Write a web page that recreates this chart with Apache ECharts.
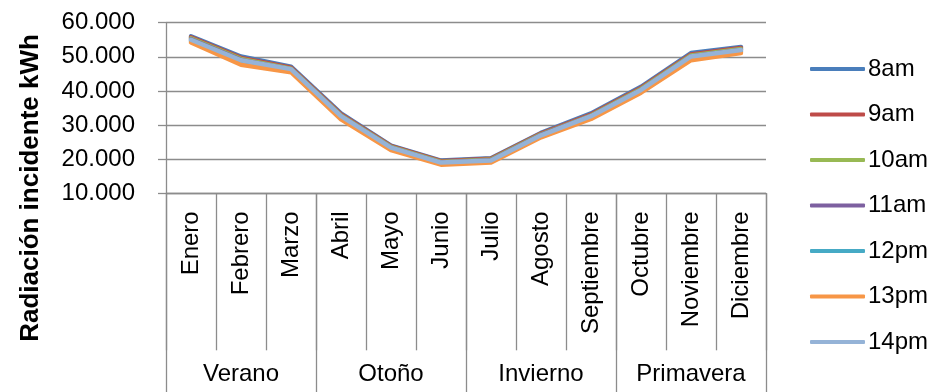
<!DOCTYPE html>
<html>
<head>
<meta charset="utf-8">
<script src="https://cdn.jsdelivr.net/npm/echarts@6/dist/echarts.min.js"></script>
<style>
  html, body { margin: 0; padding: 0; background: #fff; }
  #myChart { width: 933px; height: 392px; }
</style>
</head>
<body>
<div id="myChart"></div>
<script>
// meses y estaciones del eje x
const months = ['Enero', 'Febrero', 'Marzo', 'Abril', 'Mayo', 'Junio', 'Julio', 'Agosto', 'Septiembre', 'Octubre', 'Noviembre', 'Diciembre'];
const seasons = ['Verano', 'Otoño', 'Invierno', 'Primavera'];
const hours = ['8am', '9am', '10am', '11am', '12pm', '13pm', '14pm'];

// radiación incidente kWh por hora
const h8 = [56.0, 50.1, 47.1, 33.4, 24.0, 19.6, 20.3, 27.7, 33.4, 41.2, 51.1, 52.9];
const h9 = [55.7, 49.7, 46.8, 33.1, 23.8, 19.4, 20.1, 27.5, 33.1, 40.9, 50.7, 52.6];
const h10 = [55.4, 49.4, 46.5, 32.8, 23.6, 19.2, 19.9, 27.3, 32.8, 40.6, 50.4, 52.3];
const h11 = [55.1, 49.1, 46.3, 32.6, 23.4, 19.0, 19.7, 27.1, 32.6, 40.3, 50.1, 52.0];
const h12 = [54.7, 48.5, 46.0, 32.2, 23.1, 18.7, 19.4, 26.8, 32.3, 40.0, 49.6, 51.6];
const h13 = [54.2, 47.7, 45.5, 31.7, 22.7, 18.4, 19.0, 26.4, 31.8, 39.5, 49.0, 51.1];
const h14 = [55.0, 49.0, 46.4, 32.6, 23.4, 19.0, 19.6, 27.0, 32.6, 40.3, 50.1, 52.0];

const yTicks = [10, 20, 30, 40, 50, 60];

const colors = ['#4A7EBB', '#BE4B48', '#98B954', '#7D60A0', '#46AAC5', '#F79646', '#95B3D7'];
const font = 'Liberation Sans, Arial, sans-serif';
const grey = '#8c8c8c';

const myChart = echarts.init(document.getElementById('myChart'));

const seriesData = [h8, h9, h10, h11, h12, h13, h14];

myChart.setOption({
  animation: false,
  color: colors,
  grid: { left: 166, right: 167, top: 22.7, bottom: 198.7 },
  legend: {
    orient: 'vertical',
    left: 805,
    top: 51,
    itemWidth: 55,
    itemHeight: 4,
    itemGap: 19.5,
    icon: 'roundRect',
    textStyle: { fontFamily: font, fontSize: 24, color: '#000', lineHeight: 26, padding: [0, 0, 0, -2] },
    data: hours
  },
  graphic: [{
    type: 'text',
    x: 31,
    y: 188,
    rotation: Math.PI / 2,
    style: {
      text: 'Radiación incidente kWh',
      fontFamily: font,
      fontSize: 26,
      fontWeight: 'bold',
      fill: '#000',
      align: 'center',
      verticalAlign: 'middle'
    }
  }],
  xAxis: [
    {
      type: 'category',
      data: months,
      boundaryGap: true,
      axisLine: { show: true, lineStyle: { color: grey, width: 1.3 } },
      axisTick: { show: true, interval: 0, length: 157, lineStyle: { color: grey, width: 1.3 } },
      axisLabel: { interval: 0, rotate: 90, margin: 18, fontFamily: font, fontSize: 24, color: '#000' },
      splitLine: { show: false }
    },
    {
      type: 'category',
      data: seasons,
      position: 'bottom',
      boundaryGap: true,
      axisLine: { show: false },
      axisTick: { show: true, interval: 0, length: 199, lineStyle: { color: grey, width: 1.3 } },
      axisLabel: { interval: 0, margin: 169, fontFamily: font, fontSize: 24, color: '#000' },
      splitLine: { show: false }
    }
  ],
  yAxis: {
    type: 'value',
    min: yTicks[0],
    max: yTicks[yTicks.length - 1],
    interval: 10,
    axisLine: { show: true, lineStyle: { color: grey, width: 1.3 } },
    axisTick: { show: true, length: 8, lineStyle: { color: grey, width: 1.3 } },
    axisLabel: {
      margin: 31,
      fontFamily: font,
      fontSize: 24,
      color: '#000',
      formatter: (v) => v.toFixed(3)
    },
    splitLine: { show: true, lineStyle: { color: grey, width: 1.3 } }
  },
  series: hours.map((h, i) => ({
    name: h,
    type: 'line',
    xAxisIndex: 0,
    data: seriesData[i],
    symbol: 'none',
    lineStyle: { width: 4.5, cap: 'round', join: 'round' }
  }))
});
</script>
</body>
</html>
